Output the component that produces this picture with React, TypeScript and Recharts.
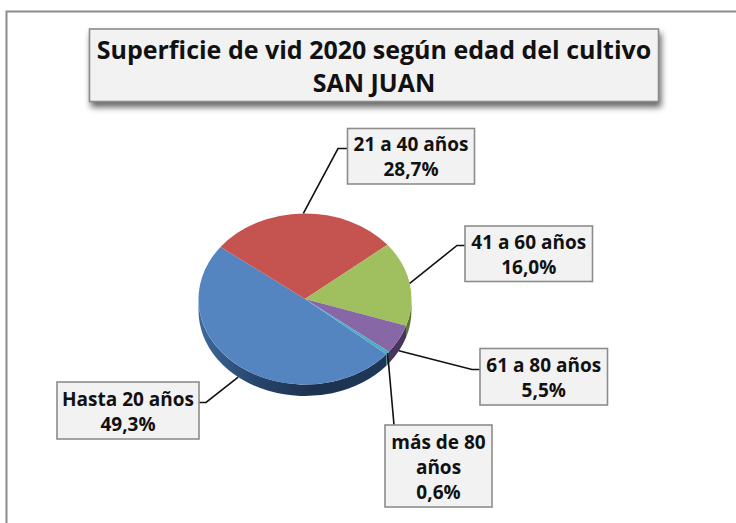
import { PieChart, Pie } from "recharts";

const categories = ["Hasta 20 años", "21 a 40 años", "41 a 60 años", "61 a 80 años", "más de 80 años"];
const shares = [49.3, 28.7, 16.0, 5.5, 0.6];
const shareLabels = ["49,3%", "28,7%", "16,0%", "5,5%", "0,6%"];
const labelLines = [["Hasta 20 años"], ["21 a 40 años"], ["41 a 60 años"], ["61 a 80 años"], ["más de 80", "años"]];
const titleLines = ["Superficie de vid 2020 según edad del cultivo", "SAN JUAN"];

const data = categories.map((name, i) => ({ name, value: shares[i] }));

const TOP_COLORS = ["#5485c0", "#c5534f", "#a0c05f", "#8767a6", "#4bacc6"];
const WALL_COLORS = ["url(#blueWall)", "#6d2f2d", "#5f7434", "#46365c", "#2a6a80"];

const CX = 305;
const CY = 299;
const RADIUS = 106.5;
const SQUASH = 0.803;
const DEPTH = 11.5;
const RAD = Math.PI / 180;

// label boxes: x, y, w, h + elbow point of the leader
const BOXES = [
  { x: 57, y: 382, w: 142, h: 57, ex: 206, ey: 402.5, sx: 199 },
  { x: 347.5, y: 128.5, w: 127, h: 55.5, ex: 338, ey: 148.5, sx: 347.5 },
  { x: 465, y: 226, w: 127.5, h: 55.5, ex: 457, ey: 245.5, sx: 465 },
  { x: 480, y: 348.5, w: 127.5, h: 56.5, ex: 472, ey: 369.5, sx: 480 },
  { x: 385, y: 425, w: 107, h: 82, ex: 394, ey: 425, sx: 394 },
];

const FONT = "'Open Sans', sans-serif";

const pt = (a: number, dy = 0) => ({
  x: CX + RADIUS * Math.cos(a * RAD),
  y: CY - RADIUS * SQUASH * Math.sin(a * RAD) + dy,
});

function TopSlice(props: any) {
  const { startAngle, endAngle, fill } = props;
  const p1 = pt(startAngle);
  const p2 = pt(endAngle);
  const large = Math.abs(startAngle - endAngle) > 180 ? 1 : 0;
  return (
    <path
      d={`M${CX},${CY}L${p1.x},${p1.y}A${RADIUS},${RADIUS * SQUASH} 0 ${large} 1 ${p2.x},${p2.y}Z`}
      fill={fill}
      stroke="none"
    />
  );
}

function WallSlice(props: any) {
  const { startAngle, endAngle, fill } = props;
  const hi = Math.max(startAngle, endAngle);
  const lo = Math.min(startAngle, endAngle);
  // only the front half of the rim shows
  const ranges = [[-180, 0], [-540, -360]]
    .map(([a, b]) => [Math.max(a, lo), Math.min(b, hi)])
    .filter(([a, b]) => b > a);
  return (
    <g>
      {ranges.map(([a, b], i) => {
        const p1 = pt(b);
        const p2 = pt(a);
        const p3 = pt(a, DEPTH);
        const p4 = pt(b, DEPTH);
        const r = `${RADIUS},${RADIUS * SQUASH}`;
        return (
          <path
            key={i}
            d={`M${p1.x},${p1.y}A${r} 0 0 1 ${p2.x},${p2.y}L${p3.x},${p3.y}A${r} 0 0 0 ${p4.x},${p4.y}Z`}
            fill={fill}
          />
        );
      })}
    </g>
  );
}

function SliceLabel(props: any) {
  const { index, midAngle } = props;
  const box = BOXES[index];
  // leaders of the front slices start on the rim's lower edge, the thin one on the top face
  const front = Math.sin(midAngle * RAD) < 0 && index !== 4;
  const start = pt(midAngle, front ? DEPTH : 0);
  const lines = [...labelLines[index], shareLabels[index]];
  const lineGap = 25;
  const midY = box.y + box.h / 2;
  const firstY = midY - ((lines.length - 1) * lineGap) / 2 + 7.5;
  return (
    <g>
      <polyline
        points={`${start.x},${start.y} ${box.ex},${box.ey} ${box.sx},${box.ey}`}
        fill="none"
        stroke="#111"
        strokeWidth={1.6}
      />
      <rect x={box.x} y={box.y} width={box.w} height={box.h} fill="#f2f2f2" stroke="#8c8c8c" strokeWidth={1.6} />
      {lines.map((t, i) => (
        <text
          key={i}
          x={box.x + box.w / 2}
          y={firstY + i * lineGap}
          textAnchor="middle"
          fontFamily={FONT}
          fontWeight={700}
          fontSize={19}
          fill="#111"
        >
          {t}
        </text>
      ))}
    </g>
  );
}

export default function App() {
  return (
    <div style={{ position: "absolute", left: 0, top: 0, width: 736, height: 523, background: "#fff" }}>
      <PieChart width={736} height={523} margin={{ top: 0, right: 0, bottom: 0, left: 0 }}>
        <defs>
          <linearGradient id="blueWall" gradientUnits="userSpaceOnUse" x1={198} y1={0} x2={390} y2={0}>
            <stop offset="0%" stopColor="#3d6a9c" />
            <stop offset="30%" stopColor="#26456b" />
            <stop offset="60%" stopColor="#1d324e" />
            <stop offset="100%" stopColor="#1f3858" />
          </linearGradient>
        </defs>
        <path d="M737,11.5H6.5V524" fill="none" stroke="#8c8c8c" strokeWidth={2} />
        <rect
          x={89.5}
          y={29}
          width={569}
          height={72.5}
          fill="#f2f2f2"
          stroke="#8c8c8c"
          strokeWidth={1.6}
          style={{ filter: "drop-shadow(2px 5px 3px rgba(0,0,0,0.6))" }}
        />
        {titleLines.map((t, i) => (
          <text
            key={t}
            x={374}
            y={59 + i * 33}
            textAnchor="middle"
            fontFamily={FONT}
            fontWeight={700}
            fontSize={25}
            fill="#111"
          >
            {t}
          </text>
        ))}
        <Pie
          data={data.map((d, i) => ({ ...d, fill: WALL_COLORS[i] }))}
          dataKey="value"
          nameKey="name"
          cx={CX}
          cy={CY}
          outerRadius={RADIUS}
          startAngle={-40.2}
          endAngle={-400.2}
          stroke="none"
          shape={WallSlice}
          isAnimationActive={false}
        />
        <Pie
          data={data.map((d, i) => ({ ...d, fill: TOP_COLORS[i] }))}
          dataKey="value"
          nameKey="name"
          cx={CX}
          cy={CY}
          outerRadius={RADIUS}
          startAngle={-40.2}
          endAngle={-400.2}
          stroke="none"
          shape={TopSlice}
          label={SliceLabel}
          labelLine={false}
          isAnimationActive={false}
        />
      </PieChart>
    </div>
  );
}
